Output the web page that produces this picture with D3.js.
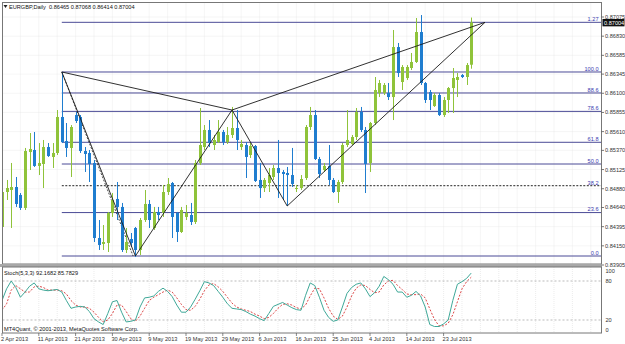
<!DOCTYPE html>
<html><head><meta charset="utf-8">
<script src="https://cdn.jsdelivr.net/npm/d3@7"></script>
<style>body{margin:0;background:#fff}svg{display:block;font-family:"Liberation Sans",Arial,sans-serif}</style>
</head><body><svg id="c" width="625" height="344"></svg>
<script>
const opens=[0.84391,0.84838,0.84864,0.84902,0.84800,0.84634,0.85349,0.85375,0.85171,0.85196,
0.85413,0.85286,0.85337,0.85797,0.85490,0.85401,0.85822,0.85797,0.85362,0.85337,
0.85209,0.84250,0.84174,0.84186,0.84570,0.84749,0.84647,0.84097,0.84237,0.84378,
0.84097,0.84480,0.84685,0.84378,0.84583,0.84570,0.84838,0.84953,0.84570,0.84327,
0.84519,0.84544,0.84455,0.85209,0.85413,0.85631,0.85439,0.85477,0.85605,0.85477,
0.85567,0.85656,0.85413,0.85439,0.85311,0.85426,0.84992,0.84889,0.84953,0.85030,
0.85145,0.85094,0.85081,0.85055,0.84877,0.84889,0.85017,0.85669,0.85822,0.85260,
0.85119,0.85171,0.84992,0.84838,0.84966,0.85439,0.85452,0.85541,0.85861,0.85631,
0.85209,0.85720,0.86103,0.86103,0.86103,0.86052,0.86691,0.86244,0.86295,0.86423,
0.86500,0.86883,0.86231,0.86116,0.85937,0.86078,0.85822,0.86014,0.86167,0.86270,
0.86333,0.86308,0.86465];
const highs=[0.84928,0.84992,0.85209,0.85030,0.84825,0.85401,0.85592,0.85605,0.85464,0.85503,
0.85464,0.85464,0.85886,0.86372,0.85720,0.85694,0.85861,0.85822,0.85413,0.85375,
0.85247,0.84480,0.84416,0.84583,0.84825,0.84966,0.84698,0.84378,0.84314,0.84391,
0.84506,0.84864,0.84736,0.84647,0.84647,0.84928,0.85017,0.84966,0.84583,0.84647,
0.84672,0.84698,0.85247,0.85912,0.85694,0.85758,0.85567,0.85758,0.85631,0.85669,
0.85925,0.85886,0.85503,0.85477,0.85464,0.85439,0.85209,0.85017,0.85145,0.85183,
0.85503,0.85119,0.85158,0.85401,0.84928,0.85055,0.85694,0.85925,0.85886,0.85286,
0.85209,0.85439,0.85017,0.84992,0.85464,0.85886,0.85567,0.85912,0.85925,0.85669,
0.85733,0.86308,0.86270,0.86231,0.86231,0.86909,0.86743,0.86461,0.86461,0.86615,
0.87062,0.87100,0.86244,0.86142,0.86103,0.86103,0.86052,0.86180,0.86423,0.86359,
0.86346,0.86487,0.87068];
const lows=[0.84289,0.84736,0.84378,0.84647,0.84608,0.84608,0.85119,0.85158,0.85055,0.84889,
0.85286,0.85145,0.85311,0.85464,0.85286,0.85030,0.85720,0.85337,0.85094,0.84966,
0.84199,0.84097,0.84097,0.84071,0.84519,0.84480,0.84071,0.84058,0.84135,0.84007,
0.84033,0.84455,0.84378,0.84353,0.84480,0.84519,0.84800,0.84250,0.84199,0.84314,
0.84480,0.84416,0.84429,0.85183,0.85375,0.85413,0.85375,0.85464,0.85439,0.85452,
0.85528,0.85375,0.85375,0.85017,0.85273,0.84966,0.84762,0.84838,0.84838,0.84992,
0.84762,0.84736,0.84659,0.84902,0.84838,0.84864,0.84992,0.85631,0.85247,0.85017,
0.85094,0.84928,0.84825,0.84698,0.84940,0.85413,0.85439,0.85503,0.85605,0.84825,
0.85094,0.85694,0.86052,0.86078,0.86014,0.85758,0.86308,0.86142,0.86270,0.86397,
0.86487,0.86206,0.85976,0.85886,0.85925,0.85810,0.85797,0.85848,0.85848,0.86052,
0.86295,0.86206,0.86414];
const closes=[0.84838,0.84889,0.84902,0.84685,0.84634,0.85362,0.85388,0.85171,0.85209,0.85413,
0.85298,0.85337,0.85797,0.85477,0.85401,0.85669,0.85746,0.85362,0.85324,0.85196,
0.84250,0.84161,0.84199,0.84570,0.84736,0.84647,0.84097,0.84199,0.84186,0.84097,
0.84480,0.84685,0.84480,0.84583,0.84544,0.84838,0.84940,0.84519,0.84327,0.84608,
0.84570,0.84455,0.85209,0.85439,0.85631,0.85464,0.85503,0.85605,0.85477,0.85567,
0.85656,0.85503,0.85452,0.85286,0.85426,0.84979,0.84889,0.84992,0.85055,0.85145,
0.85081,0.85068,0.85055,0.84940,0.84889,0.85004,0.85669,0.85822,0.85260,0.85068,
0.85171,0.84992,0.84838,0.84966,0.85439,0.85503,0.85541,0.85861,0.85631,0.85196,
0.85720,0.86142,0.86231,0.86206,0.86052,0.86691,0.86359,0.86436,0.86436,0.86500,
0.86883,0.86231,0.86014,0.86014,0.86078,0.85822,0.86014,0.86167,0.86295,0.86308,
0.86308,0.86461,0.87004];
const stochK=[50,68,80,70,55,63,72,77,68,66,
65,66,67,63,50,38,40,41,40,33,
22,17,13,30,48,50,32,17,18,20,
40,54,55,57,64,69,64,56,43,32,
32,40,52,65,79,77,73,64,55,45,
38,37,36,33,29,26,22,19,30,41,
44,47,43,39,36,35,58,77,73,55,
35,24,18,20,40,61,70,75,77,68,
56,62,72,87,82,75,63,63,55,58,
64,57,40,13,10,10,14,20,50,75,
79,84,92.17];
const stochD=[35,45,66,73,68,63,63,71,72,70,
66,66,66,65,60,50,43,40,40,38,
32,24,17,20,30,43,43,33,22,18,
26,38,50,55,59,63,66,63,54,44,
36,35,41,52,65,74,76,71,64,55,
46,40,37,35,33,29,26,22,24,30,
38,44,45,43,39,37,43,57,69,68,
54,38,26,21,26,40,57,69,74,73,
67,62,63,74,80,81,73,67,60,59,
59,60,54,37,21,11,11,15,28,48,
68,79,85.78];
const dateLabels=["2 Apr 2013","11 Apr 2013","21 Apr 2013","30 Apr 2013","9 May 2013","19 May 2013","29 May 2013","6 Jun 2013","16 Jun 2013","25 Jun 2013","4 Jul 2013","14 Jul 2013","23 Jul 2013"];
const dateLabelStep=8;
const priceTicks=[0.87075,0.86830,0.86585,0.86345,0.86100,0.85855,0.85610,0.85370,0.85125,0.84880,0.84640,0.84395,0.84150,0.83905];
const fibLevels=[0,23.6,38.2,50,61.8,78.6,88.6,100,127];
const fibLabels=["0.0","23.6","38.2","50.0","61.8","78.6","88.6","100.0","1.27"];
const fibAnchor={i0:13,p100:0.86372,i1:28.5,p0:0.84020};
const pointNames=["X","A","B","C","D"];
const pointIndex=[13,29,50,62,105];
const pointPrice=[0.86372,0.84020,0.85886,0.84659,0.87007];
const patternLinks=[["X","A"],["A","B"],["B","C"],["C","D"],["X","B"],["B","D"]];
const stochLevels=[80,20];
const stochTicks=[100,80,20,0];
const header="EURGBP,Daily  0.86465 0.87068 0.86414 0.87004";
const stochTitle="Stoch(5,3,3) 92.1682 85.7829";
const copyright="MT4Quant, \u00a9 2001-2013, MetaQuotes Software Corp.";

const svg=d3.select("#c");
const L=2.5,R=601.5,T=2.5,MB=264,ST=267,SB=333;
const x=d3.scaleLinear().domain([0,102]).range([2,471.2]);
const y=d3.scaleLinear().domain([0.83905,0.87075]).range([265,17]);
const ys=d3.scaleLinear().domain([0,100]).range([333,268]);
const step=x(1)-x(0);
const FS=5.6;

svg.append("rect").attr("width",625).attr("height",344).attr("fill","#fff");
const defs=svg.append("defs");
defs.append("clipPath").attr("id","cm").append("rect").attr("x",L).attr("y",T).attr("width",R-L).attr("height",MB-T);
defs.append("clipPath").attr("id","cs").append("rect").attr("x",L).attr("y",ST).attr("width",R-L).attr("height",SB-ST);

// grids
const gridIdx=d3.range(0,132,4);
const gm=svg.append("g").attr("clip-path","url(#cm)");
gm.selectAll(".vg").data(gridIdx).join("line").attr("x1",d=>x(d)).attr("x2",d=>x(d)).attr("y1",T).attr("y2",MB)
  .attr("stroke","#e4e4e4").attr("stroke-width",0.7).attr("stroke-dasharray","1,1");
gm.selectAll(".hg").data(priceTicks).join("line").attr("x1",L).attr("x2",R).attr("y1",d=>y(d)).attr("y2",d=>y(d))
  .attr("stroke","#e4e4e4").attr("stroke-width",0.7).attr("stroke-dasharray","1,1");
const gs=svg.append("g").attr("clip-path","url(#cs)");
gs.selectAll(".vg").data(gridIdx).join("line").attr("x1",d=>x(d)).attr("x2",d=>x(d)).attr("y1",ST).attr("y2",SB)
  .attr("stroke","#e4e4e4").attr("stroke-width",0.7).attr("stroke-dasharray","1,1");

// fib levels
const fy=l=>y(fibAnchor.p0+(fibAnchor.p100-fibAnchor.p0)*l/100);
fibLevels.forEach((l,k)=>{
  gm.append("line").attr("x1",x(fibAnchor.i0)).attr("x2",R).attr("y1",fy(l)).attr("y2",fy(l))
   .attr("stroke",l===38.2?"#222":"#4b4b96").attr("stroke-width",1)
   .attr("stroke-dasharray",l===38.2?"2,1.5":null);
  svg.append("text").attr("x",R-3).attr("y",fy(l)-1.2).attr("text-anchor","end").attr("font-size",FS)
   .attr("fill","#3b3bb0").text(fibLabels[k]);
});
gm.append("line").attr("x1",x(fibAnchor.i0)).attr("y1",y(fibAnchor.p100)).attr("x2",x(fibAnchor.i1)).attr("y2",y(fibAnchor.p0))
  .attr("stroke","#222").attr("stroke-width",0.8).attr("stroke-dasharray","2,1.5");

// candles
const data=opens.map((o,i)=>({i,o,h:highs[i],l:lows[i],c:closes[i]}));
const bull="#8fc33a",bear="#1f7dcf";
const cg=gm.append("g");
cg.selectAll(".w").data(data).join("line").attr("x1",d=>Math.round(x(d.i))+0.5).attr("x2",d=>Math.round(x(d.i))+0.5)
  .attr("y1",d=>y(d.h)).attr("y2",d=>y(d.l)).attr("stroke",d=>d.c>=d.o?bull:bear).attr("stroke-width",1);
cg.selectAll(".b").data(data).join("rect").attr("x",d=>Math.round(x(d.i))-1).attr("width",3)
  .attr("y",d=>y(Math.max(d.o,d.c))).attr("height",d=>Math.max(1,Math.abs(y(d.o)-y(d.c))))
  .attr("fill",d=>d.c>=d.o?bull:bear);

// harmonic pattern
const pts={};pointNames.forEach((n,k)=>pts[n]={x:x(pointIndex[k]),y:y(pointPrice[k])});
gm.selectAll(".pl").data(patternLinks).join("line")
  .attr("x1",d=>pts[d[0]].x).attr("y1",d=>pts[d[0]].y).attr("x2",d=>pts[d[1]].x).attr("y2",d=>pts[d[1]].y)
  .attr("stroke","#1a1a1a").attr("stroke-width",0.9);

// stochastic
gs.selectAll(".sl").data(stochLevels).join("line").attr("x1",L).attr("x2",R).attr("y1",d=>ys(d)).attr("y2",d=>ys(d))
  .attr("stroke","#aaa").attr("stroke-width",0.8).attr("stroke-dasharray","2,2");
gs.append("path").datum(stochD).attr("fill","none").attr("stroke","#d83232").attr("stroke-width",0.9)
  .attr("stroke-dasharray","2,1.6").attr("d",d3.line().x((d,i)=>x(i)).y(d=>ys(d)));
gs.append("path").datum(stochK).attr("fill","none").attr("stroke","#3fa898").attr("stroke-width",1)
  .attr("d",d3.line().x((d,i)=>x(i)).y(d=>ys(d)));

// frames
svg.append("rect").attr("x",L).attr("y",T).attr("width",R-L).attr("height",MB-T).attr("fill","none").attr("stroke","#777");
svg.append("rect").attr("x",0).attr("y",MB).attr("width",R+0.5).attr("height",ST-MB).attr("fill","#a8a8a8");
svg.append("rect").attr("x",L).attr("y",ST).attr("width",R-L).attr("height",SB-ST).attr("fill","none").attr("stroke","#777");

// price axis
priceTicks.forEach(p=>{
  svg.append("line").attr("x1",R).attr("x2",R+2.5).attr("y1",y(p)).attr("y2",y(p)).attr("stroke","#555").attr("stroke-width",0.8);
  svg.append("text").attr("x",R+3.5).attr("y",y(p)+2).attr("font-size",FS).attr("fill","#333").text(p.toFixed(5));
});
const last=closes[closes.length-1];
svg.append("rect").attr("x",R+1).attr("y",y(last)-3.6).attr("width",22).attr("height",7.4).attr("fill","#111");
svg.append("text").attr("x",R+2.5).attr("y",y(last)+2).attr("font-size",FS).attr("fill","#fff").text(last.toFixed(5));

// stoch axis
stochTicks.forEach(v=>{
  const yy=Math.min(330,Math.max(271,ys(v)));
  svg.append("text").attr("x",R+4).attr("y",yy+2).attr("font-size",FS).attr("fill","#333").text(v);
});

// date axis
dateLabels.forEach((t,k)=>{
  const xi=x(k*dateLabelStep);
  svg.append("line").attr("x1",xi).attr("x2",xi).attr("y1",SB).attr("y2",SB+3).attr("stroke","#555").attr("stroke-width",0.7);
  svg.append("text").attr("x",xi-1).attr("y",340.5).attr("font-size",FS).attr("fill","#333").text(t);
});

// titles
svg.append("path").attr("d","M3.5,5 L7.5,5 L5.5,8 Z").attr("fill","#222");
svg.append("text").attr("x",9).attr("y",9).attr("font-size",FS).attr("fill","#111").attr("xml:space","preserve").text(header);
svg.append("text").attr("x",4).attr("y",275).attr("font-size",FS).attr("fill","#111").text(stochTitle);
svg.append("text").attr("x",4).attr("y",331).attr("font-size",FS).attr("fill","#111").text(copyright);
</script></body></html>
